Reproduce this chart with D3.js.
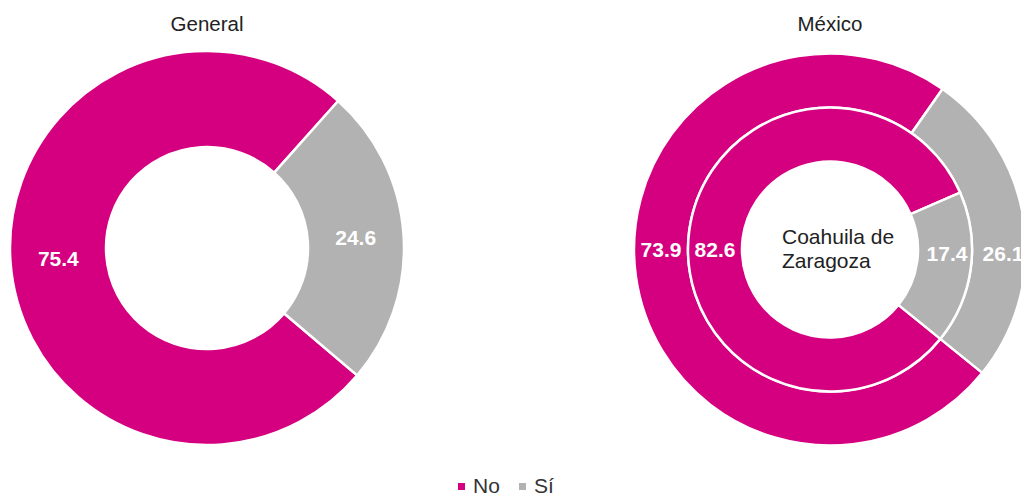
<!DOCTYPE html>
<html><head><meta charset="utf-8">
<script src="https://cdn.jsdelivr.net/npm/d3@7"></script>
<style>html,body{margin:0;padding:0;background:#fff;overflow:hidden}svg{display:block;font-family:"Liberation Sans",Arial,sans-serif}</style>
</head><body>
<svg id="chart" width="1021" height="498"></svg>
<script>
const categories = ["No", "Sí"];
const generalValues = [75.4, 24.6];
const mexicoValues = [73.9, 26.1];
const coahuilaValues = [82.6, 17.4];
const titles = ["General", "México"];
const centerLabel = ["Coahuila de", "Zaragoza"];

const colors = d3.scaleOrdinal().domain(categories).range(["#D5007F", "#B2B2B2"]);
const svg = d3.select("#chart");
const deg = Math.PI / 180;

function makePie(startDeg) {
  return d3.pie().sort(null).value(d => d.v)
    .startAngle(startDeg * deg).endAngle(startDeg * deg + 2 * Math.PI);
}
function rows(vals) { return categories.map((c, i) => ({ c, v: vals[i] })); }

// ---- Left: General ----
const L = { cx: 207, cy: 248, r0: 101, r1: 197 };
const gL = svg.append("g").attr("transform", `translate(${L.cx},${L.cy})`);
const arcL = d3.arc().innerRadius(L.r0).outerRadius(L.r1);
const pieL = makePie(130.3)(rows(generalValues));
gL.selectAll("path").data(pieL).join("path")
  .attr("d", arcL).attr("fill", d => colors(d.data.c))
  .attr("stroke", "#fff").attr("stroke-width", 2.5);
gL.selectAll("text").data(pieL).join("text")
  .attr("transform", d => `translate(${arcL.centroid(d)})`)
  .attr("text-anchor", "middle").attr("dy", "0.36em")
  .attr("fill", "#fff").attr("font-weight", "bold").attr("font-size", 21)
  .text(d => d.data.v.toFixed(1));
svg.append("text").attr("x", L.cx).attr("y", 24).attr("dy", "0.36em")
  .attr("text-anchor", "middle").attr("font-size", 20.5).attr("fill", "#222")
  .text(titles[0]);

// ---- Right: México (outer) + Coahuila (inner) ----
const R = { cx: 830, cy: 249.5, h: 88, m: 142, r1: 196 };
const gR = svg.append("g").attr("transform", `translate(${R.cx},${R.cy})`);
const arcOuter = d3.arc().innerRadius(R.m).outerRadius(R.r1);
const arcInner = d3.arc().innerRadius(R.h).outerRadius(R.m);
const pieOuter = makePie(129)(rows(mexicoValues));
const pieInner = makePie(129)(rows(coahuilaValues));
gR.append("g").selectAll("path").data(pieOuter).join("path")
  .attr("d", arcOuter).attr("fill", d => colors(d.data.c))
  .attr("stroke", "#fff").attr("stroke-width", 2.5);
gR.append("g").selectAll("path").data(pieInner).join("path")
  .attr("d", arcInner).attr("fill", d => colors(d.data.c))
  .attr("stroke", "#fff").attr("stroke-width", 2.5);

function ringLabels(pieData, rIn, rOut, shift) {
  const mid = (rIn + rOut) / 2;
  gR.append("g").selectAll("text").data(pieData).join("text")
    .attr("x", (d, i) => (i === 0 ? -mid : mid + shift))
    .attr("y", (d, i) => i === 0 ? 0 : 4)
    .attr("text-anchor", "middle").attr("dy", "0.36em")
    .attr("fill", "#fff").attr("font-weight", "bold").attr("font-size", 21)
    .text(d => d.data.v.toFixed(1));
}
ringLabels(pieOuter, R.m, R.r1, 4);
ringLabels(pieInner, R.h, R.m, 2);

const cl = gR.append("text").attr("font-size", 21).attr("fill", "#222");
centerLabel.forEach((t, i) => {
  cl.append("tspan").attr("x", -48).attr("y", -13 + i * 24).attr("dy", "0.36em").text(t);
});
svg.append("text").attr("x", R.cx).attr("y", 24).attr("dy", "0.36em")
  .attr("text-anchor", "middle").attr("font-size", 20.5).attr("fill", "#222")
  .text(titles[1]);

// ---- Legend ----
const legend = svg.append("g").attr("transform", "translate(458,485)");
const legX = [0, 61];
categories.forEach((c, i) => {
  const g = legend.append("g").attr("transform", `translate(${legX[i]},0)`);
  g.append("rect").attr("x", 0).attr("y", -2).attr("width", 7).attr("height", 7).attr("fill", colors(c));
  g.append("text").attr("x", 15).attr("y", 0).attr("dy", "0.36em")
    .attr("font-size", 21).attr("fill", "#333").text(c);
});
</script>
</body></html>
